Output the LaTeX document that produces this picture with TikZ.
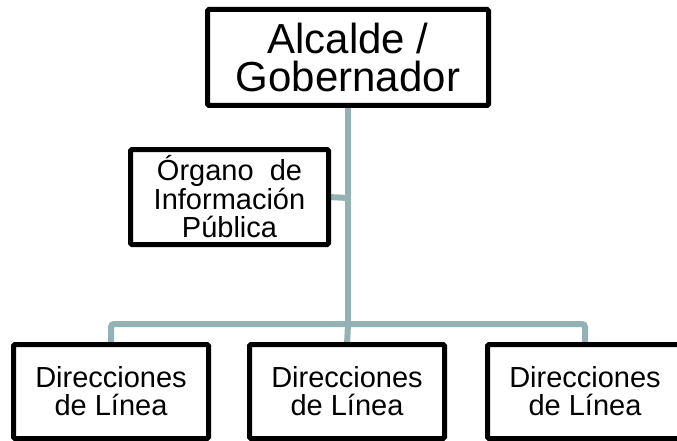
\documentclass[tikz,border=0pt]{standalone}
\usepackage{fontspec}
\setmainfont{Liberation Sans}
\usetikzlibrary{backgrounds}
\definecolor{conn}{RGB}{148,178,180}
\begin{document}
\begin{tikzpicture}[x=1pt,y=-1pt,
  box/.style={draw=black,line width=5pt,fill=white,inner sep=0pt,outer sep=0pt,align=center,rounded corners=1.5pt},
  topbox/.style={box,minimum width=281pt,minimum height=96pt,font=\fontsize{42}{38.5}\selectfont},
  orgbox/.style={box,minimum width=198pt,minimum height=95pt,font=\fontsize{29}{28.5}\selectfont},
  dirbox/.style={box,minimum width=195pt,minimum height=94pt,font=\fontsize{29}{28}\selectfont},
  link/.style={draw=conn,line width=6pt,rounded corners=3pt}]
\useasboundingbox (0,0) rectangle (677,441);
\coordinate (j) at (348,324);
\coordinate (k) at (348,198);
\node[topbox] (top) at (348,57.5) {Alcalde /\\Gobernador};
\node[orgbox] (org) at (229.5,197) {Órgano\ \ de\\Información\\Pública};
\node[dirbox] (d1) at (111,391.5) {Direcciones\\de Línea};
\node[dirbox] (d2) at (347,391.5) {Direcciones\\de Línea};
\node[dirbox] (d3) at (585,391.5) {Direcciones\\de Línea};
\begin{scope}[on background layer]
\fill[white] (0,0) rectangle (677,441);
\path[link] (top.south) -- (j);
\path[link] (org.east) -- (k);
\path[link] (d1.north) |- (j) -| (d3.north);
\path[link] (j) -- (d2.north);
\end{scope}
\end{tikzpicture}
\end{document}
